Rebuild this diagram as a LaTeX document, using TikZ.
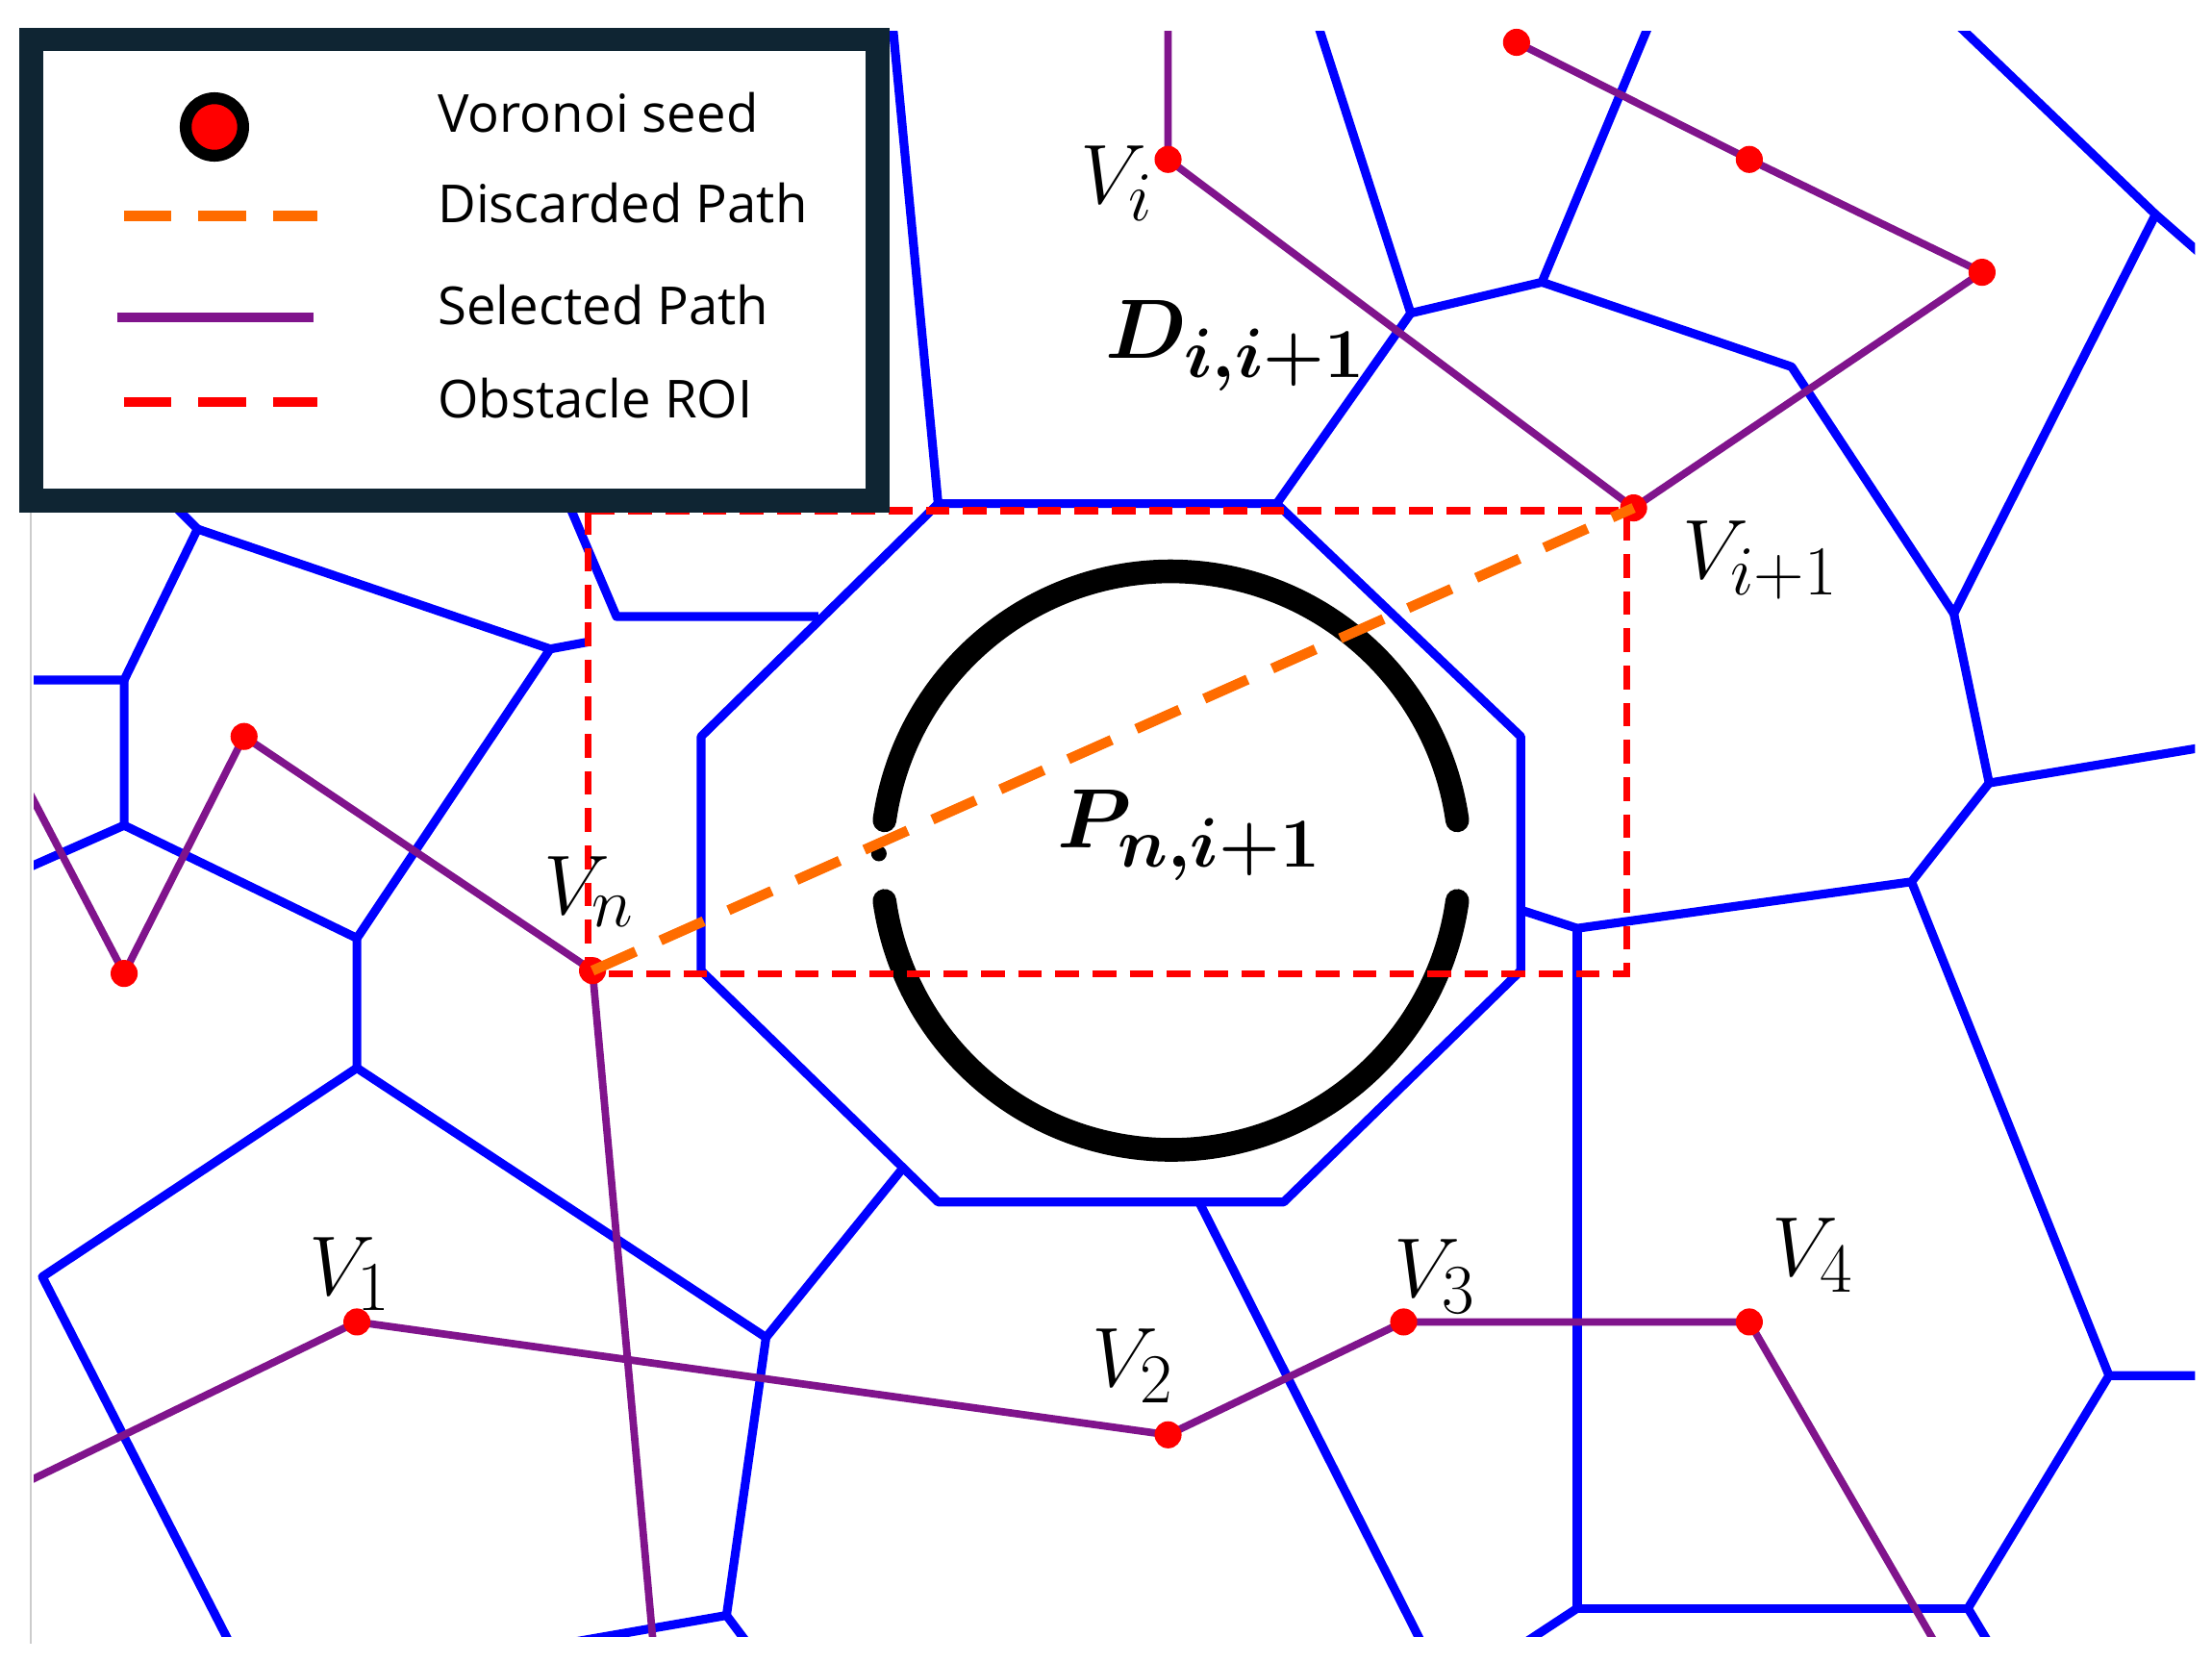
\documentclass[tikz,border=0pt]{standalone}
\usepackage{fontspec}
\setsansfont{Open Sans}
\usepackage{amsmath,bm}
\definecolor{pathpurple}{RGB}{128,20,140}
\definecolor{legborder}{RGB}{15,37,51}
\begin{document}
\begin{tikzpicture}[x=0.01467cm,y=-0.01467cm,
 vor/.style={draw=blue,line width=2.6pt,line join=round},
 sel/.style={draw=pathpurple,line width=2.2pt},
 seed/.style={circle,fill=red,inner sep=0pt,minimum size=8pt},
 lbl/.style={font=\fontsize{30}{30}\selectfont},
 leg/.style={font=\sffamily\fontsize{15.5}{15.5}\selectfont,anchor=west}]
\useasboundingbox (0,0) rectangle (1568,1178);
\fill[white] (0,0) rectangle (1568,1178);
\draw[gray!40,line width=0.6pt] (22,360) -- (22,1165);
\begin{scope}
\clip (24,22) rectangle (1556,1160);
\draw[vor] (665,357)--(905,357)--(1078,522)--(1078,688)--(910,852)--(665,852)--(497,688)--(497,522)--cycle;
\draw[vor] (905,357)--(1000,222)--(935,20);
\draw[vor] (1000,222)--(1093,200)--(1170,15);
\draw[vor] (1093,200)--(1270,260)--(1385,435)--(1528,152)--(1385,15);
\draw[vor] (1528,152)--(1560,180);
\draw[vor] (1385,435)--(1410,555)--(1560,530);
\draw[vor] (1410,555)--(1355,625)--(1118,658)--(1078,645);
\draw[vor] (1355,625)--(1495,975)--(1560,975);
\draw[vor] (1495,975)--(1395,1140)--(1410,1165);
\draw[vor] (1118,658)--(1118,1140)--(1395,1140);
\draw[vor] (1118,1140)--(1080,1165);
\draw[vor] (850,852)--(1008,1165);
\draw[vor] (640,828)--(543,948)--(515,1145)--(400,1165);
\draw[vor] (515,1145)--(530,1165);
\draw[vor] (543,948)--(253,757)--(30,905)--(163,1165);
\draw[vor] (253,757)--(253,665)--(88,585);
\draw[vor] (253,665)--(390,460)--(140,375)--(88,482)--(20,482);
\draw[vor] (88,482)--(88,585)--(20,615);
\draw[vor] (140,375)--(120,355);
\draw[vor] (390,460)--(417,455);
\draw[vor] (580,437)--(437,437)--(400,350);
\draw[vor] (633,20)--(665,357);
\draw[sel] (828,15)--(828,113)--(1158,360)--(1405,193)--(1240,113)--(1075,30);
\draw[sel] (20,560)--(88,690)--(173,522)--(420,688)--(463,1165);
\draw[sel] (20,1050)--(253,937)--(828,1017)--(995,937)--(1240,937)--(1372,1165);
\end{scope}
\begin{scope}[line width=7pt,line cap=round]
\draw (830,610)++(8:205) arc[start angle=8,end angle=172,radius=205];
\draw (830,610)++(188:205) arc[start angle=188,end angle=352,radius=205];
\fill (623,605) circle (5.5);
\end{scope}
\draw[red,line width=2pt,dash pattern=on 7pt off 4pt] (417,362) rectangle (1153,690);
\node[seed] (vi) at (828,113) {};
\node[seed] (vi1) at (1158,360) {};
\node[seed] at (1405,193) {};
\node[seed] at (1240,113) {};
\node[seed] at (1075,30) {};
\node[seed] at (88,690) {};
\node[seed] at (173,522) {};
\node[seed] (vn) at (420,688) {};
\node[seed] (v1) at (253,937) {};
\node[seed] (v2) at (828,1017) {};
\node[seed] (v3) at (995,937) {};
\node[seed] (v4) at (1240,937) {};
\draw[orange!85!red,line width=3pt,dash pattern=on 14pt off 8pt] (vn.center)--(vi1.center);
\node[lbl] at (792,130) {$V_i$};
\node[lbl] at (876,245) {$\bm{D_{i,i+1}}$};
\node[lbl] at (1248,397) {$V_{i+1}$};
\node[lbl] at (843,592) {$\bm{P_{n,i+1}}$};
\node[lbl] at (418,632) {$V_n$};
\node[lbl] at (248,903) {$V_1$};
\node[lbl] at (803,968) {$V_2$};
\node[lbl] at (1017,905) {$V_3$};
\node[lbl] at (1285,890) {$V_4$};
\draw[fill=white,draw=legborder,line width=7pt] (22,28) rectangle (622,355);
\node[circle,fill=red,draw=black,line width=3.5pt,minimum size=17pt,inner sep=0pt] at (152,90) {};
\draw[orange!85!red,line width=3pt,dash pattern=on 14pt off 8pt] (88,153)--(225,153);
\draw[pathpurple,line width=3pt] (83,225)--(222,225);
\draw[red,line width=3pt,dash pattern=on 14pt off 8pt] (88,285)--(225,285);
\node[leg] at (302,80) {Voronoi seed};
\node[leg] at (302,144) {Discarded Path};
\node[leg] at (302,216) {Selected Path};
\node[leg] at (302,282) {Obstacle ROI};
\end{tikzpicture}
\end{document}
